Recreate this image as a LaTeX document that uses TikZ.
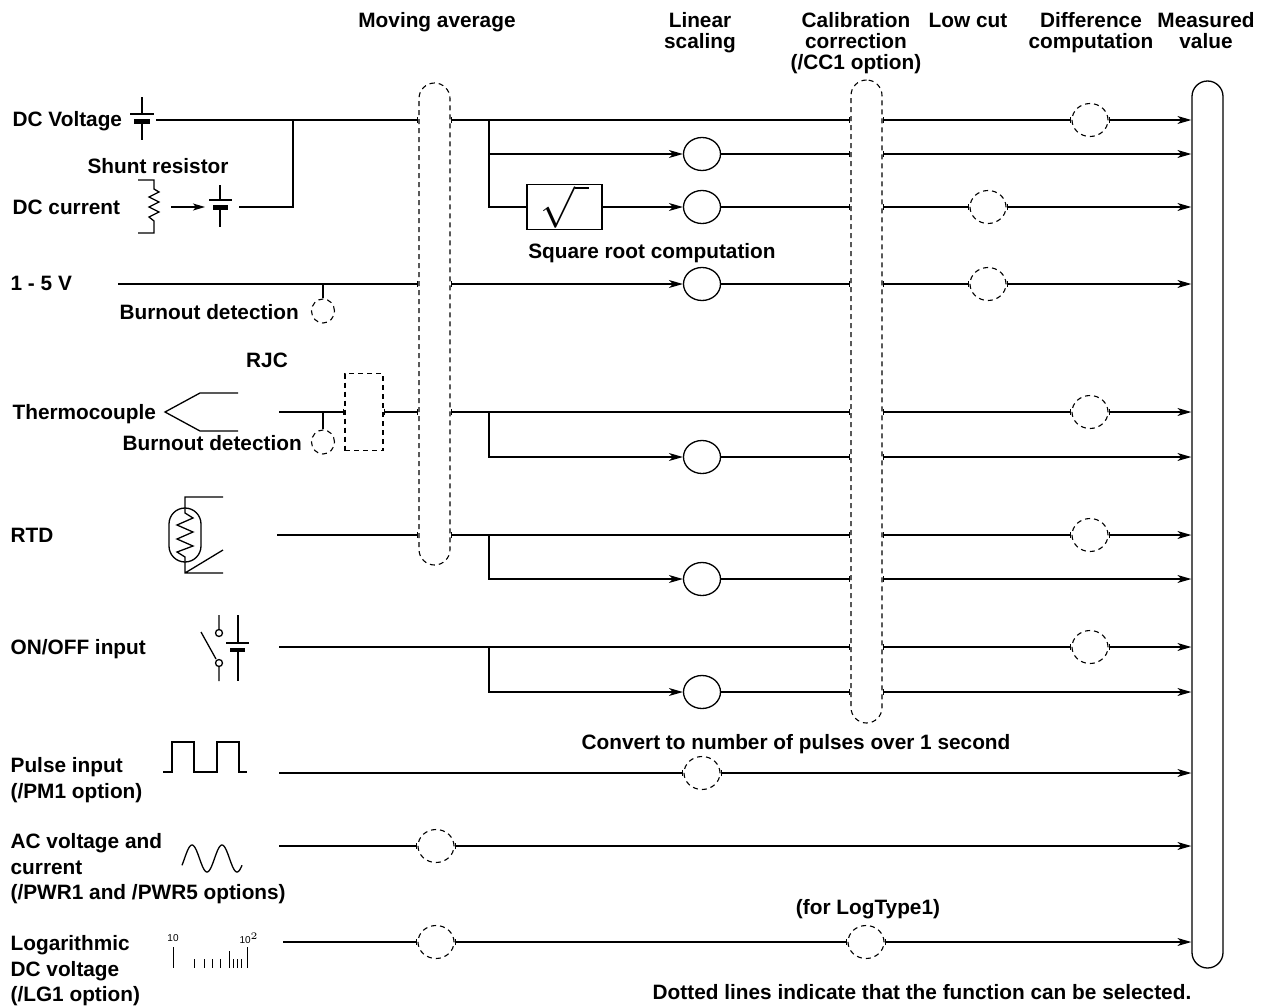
\documentclass[tikz,border=0pt]{standalone}
\usepackage{fontspec}
\setmainfont{Liberation Sans}
\usetikzlibrary{arrows.meta,shapes.geometric}

\tikzset{
  tk/.tip={Bar[width=3pt]},
  hd/.tip={Stealth[length=7pt,width=4pt,inset=2pt]},
}

\begin{document}
\begin{tikzpicture}[x=0.5pt,y=-0.5pt,line width=0.65pt,
    lbl/.style={font=\bfseries\fontsize{10.4}{12.75}\selectfont,inner sep=0pt},
    hdr/.style={font=\bfseries\fontsize{10.4}{10.5}\selectfont,inner sep=0pt,align=center},
    opt/.style={draw,dash pattern=on 2.5pt off 2pt,line width=0.55pt},
    sel/.style={opt,ellipse,minimum width=18pt,minimum height=16.5pt,inner sep=0pt},
    scl/.style={draw,ellipse,minimum width=18.5pt,minimum height=16.5pt,inner sep=0pt},
    bo/.style={opt,ellipse,minimum width=11.5pt,minimum height=12pt,inner sep=0pt},
    pill/.style={rounded corners=7.75pt,minimum width=15.5pt,inner sep=0pt}]

  \useasboundingbox (0,0) rectangle (1264,1007);

  % column headers
  \node[hdr,anchor=base] (hma) at (437,27) {Moving average};
  \node[hdr,anchor=north] (hls) at (700,12) {Linear\\scaling};
  \node[hdr,anchor=north] (hcc) at (856,12) {Calibration\\correction\\(/CC1 option)};
  \node[hdr,anchor=base] (hlc) at (968,27) {Low cut};
  \node[hdr,anchor=north] (hdf) at (1091,12) {Difference\\computation};
  \node[hdr,anchor=north] (hmv) at (1206,12) {Measured\\value};

  % processing columns
  \node[pill,opt,minimum height=241pt] (ma) at (434.5,324) {};
  \node[pill,opt,minimum height=321.5pt] (cc) at (866.5,401.5) {};
  \node[pill,draw,minimum height=443.5pt] (mv) at (1207.5,524.5) {};

  % linear scaling
  \node[scl] (ls1) at (702,154) {};
  \node[scl] (ls2) at (702,207) {};
  \node[scl] (ls3) at (702,284) {};
  \node[scl] (ls4) at (702,457) {};
  \node[scl] (ls5) at (702,579) {};
  \node[scl] (ls6) at (702,692) {};
  % low cut and difference
  \node[sel] (lc1) at (988,207) {};
  \node[sel] (lc2) at (988,284) {};
  \node[sel] (df1) at (1090,120) {};
  \node[sel] (df2) at (1090,412) {};
  \node[sel] (df3) at (1090,535) {};
  \node[sel] (df4) at (1090,647) {};
  % other optional blocks
  \node[sel] (pc) at (702,773) {};
  \node[sel] (ma7) at (436,846) {};
  \node[sel] (ma8) at (436,942) {};
  \node[sel] (cc8) at (866,942) {};
  \node[draw,minimum width=37.5pt,minimum height=22.5pt,inner sep=0pt] (sq) at (564.5,207)
        {\huge$\sqrt{\hspace{7pt}}$};
  \node[opt,minimum width=19pt,minimum height=38.5pt,inner sep=0pt] (rjc) at (364,412) {};
  \node[bo] (bo1) at (323,311) {};
  \node[bo] (bo2) at (323,442) {};

  % labels
  \node[lbl,anchor=base west] (ldcv) at (12,126) {DC Voltage};
  \node[lbl,anchor=base] (lsh) at (158,173) {Shunt resistor};
  \node[lbl,anchor=base west] (ldci) at (12,214) {DC current};
  \node[lbl,anchor=base west] (l15) at (10,290) {1 - 5 V};
  \node[lbl,anchor=base west] (lbo1) at (119,319) {Burnout detection};
  \node[lbl,anchor=base] (lrjc) at (267,367) {RJC};
  \node[lbl,anchor=base west] (ltc) at (12,419) {Thermocouple};
  \node[lbl,anchor=base west] (lbo2) at (122,450) {Burnout detection};
  \node[lbl,anchor=base west] (lrtd) at (10,542) {RTD};
  \node[lbl,anchor=base west] (lsw) at (10,654) {ON/OFF input};
  \node[lbl,anchor=north west,align=left] (lpl) at (10,757) {Pulse input\\(/PM1 option)};
  \node[lbl,anchor=north west,align=left] (lac) at (10,833)
        {AC voltage and\\current\\(/PWR1 and /PWR5 options)};
  \node[lbl,anchor=north west,align=left] (llg) at (10,935) {Logarithmic\\DC voltage\\(/LG1 option)};
  \node[lbl,anchor=base] (lsq) at (652,258) {Square root computation};
  \node[lbl,anchor=base] (lpc) at (796,749) {Convert to number of pulses over 1 second};
  \node[lbl,anchor=base] (lcc8) at (868,914) {(for LogType1)};
  \node[lbl,anchor=base] (lnote) at (922,999)
        {Dotted lines indicate that the function can be selected.};

  % input symbols
  \draw (142,97) -- (142,114) (130,114) -- (154,114) (142,124) -- (142,140);
  \fill (134,119) rectangle (150,124);
  \draw (138,180) -- (154,180) -- (154,189) -- (159,192) -- (149,197) -- (159,202)
        -- (149,207) -- (159,212) -- (149,217) -- (154,221) -- (154,233) -- (138,233);
  \draw (220,185) -- (220,200) (209,200) -- (232,200) (220,210) -- (220,227);
  \fill (213,205) rectangle (228,210);
  \draw (238,393) -- (200,393) -- (165,412) -- (200,431) -- (238,431);
  \draw (223,497) -- (185,497) -- (185,508) (185,562) -- (185,573) -- (223,573)
        (185,573) -- (223,550);
  \draw[rounded corners=8pt] (169,508) rectangle (201,562);
  \draw (185,508) -- (185,513) -- (193,518) -- (177,525) -- (193,532) -- (177,539)
        -- (193,546) -- (177,552) -- (185,557) -- (185,562);
  \draw (219,615) -- (219,629.5) (219,666.5) -- (219,681) (201,632) -- (216,659);
  \draw (219,633) circle[radius=1.75pt] (219,663) circle[radius=1.75pt];
  \draw (238,615) -- (238,643) (226,643) -- (249,643) (238,652) -- (238,681);
  \fill (230,648) rectangle (245,652);
  \draw (163,772) -- (172,772) -- (172,742) -- (194,742) -- (194,772) -- (217,772)
        -- (217,742) -- (239,742) -- (239,772) -- (247,772);
  \draw[domain=-30:690,samples=80,smooth] plot ({184.5+\x/12},{858.5-13.5*sin(\x)});
  \draw[line width=0.5pt] (173,947) -- (173,968) (247,947) -- (247,968) (229,951) -- (229,968);
  \foreach \t in {194,204,212,220,233,237,241}
    \draw[line width=0.5pt] (\t,959) -- ++(0,9);
  \node[font=\fontsize{5}{5}\selectfont,inner sep=0pt] (d1) at (173,938) {10};
  \node[font=\fontsize{5}{5}\selectfont,inner sep=0pt] (d2) at (249,938) {10$^2$};

  % DC voltage and DC current
  \coordinate (dcv) at (156,120);
  \coordinate (dci) at (239,207);
  \coordinate (jn) at (293,120);
  \coordinate (rs) at (171,207);
  \coordinate (cb) at (205,207);
  \coordinate (b1) at (489,120);
  \draw[-{Stealth[length=6pt,width=3.5pt,inset=1.5pt]}] (rs) -- (cb);
  \draw[-tk] (dcv) -- (dcv -| ma.west);
  \draw (dci) -| (jn);
  \draw[tk-tk] (b1 -| ma.east) -- (b1 -| cc.west);
  \draw[tk-tk] (b1 -| cc.east) -- (df1);
  \draw[tk-hd] (df1) -- (df1 -| mv.west);
  \draw[-hd] (b1) |- (ls1);
  \draw (b1) |- (sq);
  \draw[-hd] (sq) -- (ls2);
  \draw[-tk] (ls1) -- (ls1 -| cc.west);
  \draw[tk-hd] (ls1 -| cc.east) -- (ls1 -| mv.west);
  \draw[-tk] (ls2) -- (ls2 -| cc.west);
  \draw[tk-tk] (ls2 -| cc.east) -- (lc1);
  \draw[tk-hd] (lc1) -- (lc1 -| mv.west);

  % 1 - 5 V
  \coordinate (v15) at (118,284);
  \coordinate (t1) at (323,284);
  \draw[-tk] (v15) -- (v15 -| ma.west);
  \draw (t1) -- (bo1);
  \draw[tk-hd] (v15 -| ma.east) -- (ls3);
  \draw[-tk] (ls3) -- (ls3 -| cc.west);
  \draw[tk-tk] (ls3 -| cc.east) -- (lc2);
  \draw[tk-hd] (lc2) -- (lc2 -| mv.west);

  % thermocouple
  \coordinate (tc) at (279,412);
  \coordinate (t2) at (323,412);
  \coordinate (b3) at (489,412);
  \draw[-tk] (tc) -- (rjc);
  \draw (t2) -- (bo2);
  \draw[tk-tk] (rjc) -- (rjc -| ma.west);
  \draw[tk-tk] (b3 -| ma.east) -- (b3 -| cc.west);
  \draw[tk-tk] (b3 -| cc.east) -- (df2);
  \draw[tk-hd] (df2) -- (df2 -| mv.west);
  \draw[-hd] (b3) |- (ls4);
  \draw[-tk] (ls4) -- (ls4 -| cc.west);
  \draw[tk-hd] (ls4 -| cc.east) -- (ls4 -| mv.west);

  % RTD
  \coordinate (rt) at (277,535);
  \coordinate (b4) at (489,535);
  \draw[-tk] (rt) -- (rt -| ma.west);
  \draw[tk-tk] (b4 -| ma.east) -- (b4 -| cc.west);
  \draw[tk-tk] (b4 -| cc.east) -- (df3);
  \draw[tk-hd] (df3) -- (df3 -| mv.west);
  \draw[-hd] (b4) |- (ls5);
  \draw[-tk] (ls5) -- (ls5 -| cc.west);
  \draw[tk-hd] (ls5 -| cc.east) -- (ls5 -| mv.west);

  % ON/OFF
  \coordinate (sw) at (279,647);
  \coordinate (b5) at (489,647);
  \draw[-tk] (sw) -- (sw -| cc.west);
  \draw[tk-tk] (sw -| cc.east) -- (df4);
  \draw[tk-hd] (df4) -- (df4 -| mv.west);
  \draw[-hd] (b5) |- (ls6);
  \draw[-tk] (ls6) -- (ls6 -| cc.west);
  \draw[tk-hd] (ls6 -| cc.east) -- (ls6 -| mv.west);

  % pulse, AC, logarithmic
  \coordinate (pl) at (279,773);
  \coordinate (ac) at (279,846);
  \coordinate (lg) at (283,942);
  \draw[-tk] (pl) -- (pc);
  \draw[tk-hd] (pc) -- (pc -| mv.west);
  \draw[-tk] (ac) -- (ma7);
  \draw[tk-hd] (ma7) -- (ma7 -| mv.west);
  \draw[-tk] (lg) -- (ma8);
  \draw[tk-tk] (ma8) -- (cc8);
  \draw[tk-hd] (cc8) -- (cc8 -| mv.west);
\end{tikzpicture}
\end{document}
